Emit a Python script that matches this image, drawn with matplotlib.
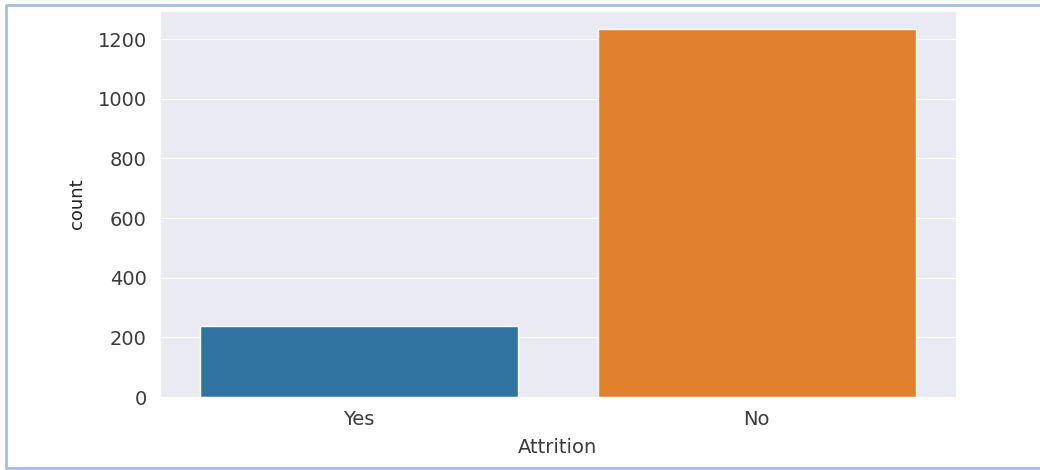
import matplotlib
matplotlib.use('Agg')
import matplotlib.pyplot as plt
import seaborn as sns
from matplotlib.lines import Line2D

sns.set_style('darkgrid')
plt.rcParams['font.family'] = ['DejaVu Sans']

# attrition counts
attrition = ['Yes', 'No']
counts = [237, 1233]
colors = ['#3274a1', '#e1812c']

fig = plt.figure(figsize=(10.4, 4.7), dpi=100)
ax = fig.add_axes([0.1538, 0.1553, 0.919 - 0.1538, 0.9766 - 0.1553])
ax.bar(attrition, counts, width=0.8, color=colors)
ax.set_xlim(-0.5, 1.5)
ax.set_ylim(0, max(counts) * 1.05)
ax.set_yticks([0, 200, 400, 600, 800, 1000, 1200])
ax.grid(False, axis='x')
ax.tick_params(axis='both', labelsize=14, labelcolor='#3a3a3a', pad=6)
ax.set_xlabel('Attrition', fontsize=14, color='#3a3a3a', labelpad=6)
ax.set_ylabel('count', fontsize=13, color='#222222', labelpad=8)

# thin frame round the picture (left, top, bottom)
x0, x1 = 6 / 1040, 1.0
y0, y1 = 2 / 470, 1 - 5 / 470
fig.lines.append(Line2D([x1, x0, x0, x1], [y1, y1, y0, y0], transform=fig.transFigure,
                        color='#a3bde3', linewidth=2))

fig.savefig('out.png', dpi=100)
